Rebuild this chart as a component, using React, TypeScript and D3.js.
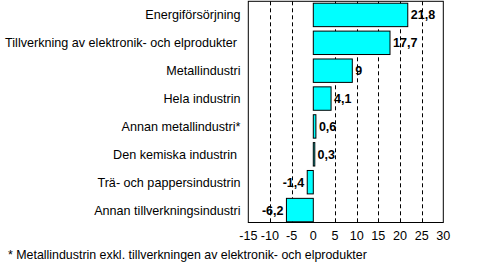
import React from "react";
import * as d3 from "d3";

const categories = [
  "Energiförsörjning",
  "Tillverkning av elektronik- och elprodukter ",
  "Metallindustri",
  "Hela industrin",
  "Annan metallindustri*",
  "Den kemiska industrin ",
  "Trä- och pappersindustrin",
  "Annan tillverkningsindustri",
];
const values = [21.8, 17.7, 9, 4.1, 0.6, 0.3, -1.4, -6.2];
const valueLabels = ["21,8", "17,7", "9", "4,1", "0,6", "0,3", "-1,4", "-6,2"];
const ticks = [-15, -10, -5, 0, 5, 10, 15, 20, 25, 30];
const gridTicks = [-10, -5, 5, 10, 15, 20, 25];
const footnote = "* Metallindustrin exkl. tillverkningen av elektronik- och elprodukter";

const W = 488;
const H = 273;
const plot = { left: 248.3, right: 443.3, top: 1.3, bottom: 222.5 };

export default function App() {
  const x = d3.scaleLinear().domain([-15, 30]).range([plot.left, plot.right]);
  const y = d3
    .scaleBand<string>()
    .domain(categories)
    .range([1, 224])
    .paddingInner(0.16)
    .paddingOuter(0.08);
  const labelFont = "'Liberation Sans', Arial, sans-serif";
  const valFont = "'Liberation Sans Narrow', 'Arial Narrow', 'Liberation Sans', sans-serif";
  return (
    <svg
      width={W}
      height={H}
      style={{ position: "absolute", left: 0, top: 0, display: "block", background: "#fff" }}
    >
      <rect x={0} y={0} width={W} height={H} fill="#fff" />
      {gridTicks.map((t) => (
        <line
          key={t}
          x1={Math.round(x(t)) + 0.5}
          x2={Math.round(x(t)) + 0.5}
          y1={plot.top}
          y2={plot.bottom}
          stroke="#000"
          strokeWidth={1}
          strokeDasharray="4,3"
        />
      ))}
      <rect
        x={plot.left}
        y={plot.top}
        width={plot.right - plot.left}
        height={plot.bottom - plot.top}
        fill="none"
        stroke="#000"
        strokeWidth={1}
      />
      {categories.map((c, i) => {
        const v = values[i];
        const x0 = x(Math.min(0, v));
        const x1 = x(Math.max(0, v));
        const by = y(c)!;
        const bh = y.bandwidth();
        return (
          <g key={c}>
            <rect
              x={x0}
              y={by}
              width={Math.max(x1 - x0, 1.5)}
              height={bh}
              fill="#00ffff"
              stroke="#000"
              strokeWidth={1}
            />
            <text
              x={v >= 0 ? x1 + 3 : x0 - 3}
              y={by + bh / 2 + 4.5}
              textAnchor={v >= 0 ? "start" : "end"}
              fontFamily={valFont}
              fontWeight="bold"
              fontSize={12.5}
              fill="#000"
            >
              {valueLabels[i]}
            </text>
            <text
              x={240.5}
              y={by + bh / 2 + 4.5}
              textAnchor="end"
              fontFamily={labelFont}
              fontSize={12.6}
              fill="#000"
              style={{ whiteSpace: "pre" }}
            >
              {c}
            </text>
          </g>
        );
      })}
      {ticks.map((t) => (
        <text
          key={t}
          x={x(t)}
          y={240}
          textAnchor="middle"
          fontFamily={labelFont}
          fontSize={12.6}
          fill="#000"
        >
          {t}
        </text>
      ))}
      <text x={8} y={259} fontFamily={labelFont} fontSize={12.4} fill="#000">
        {footnote}
      </text>
    </svg>
  );
}
